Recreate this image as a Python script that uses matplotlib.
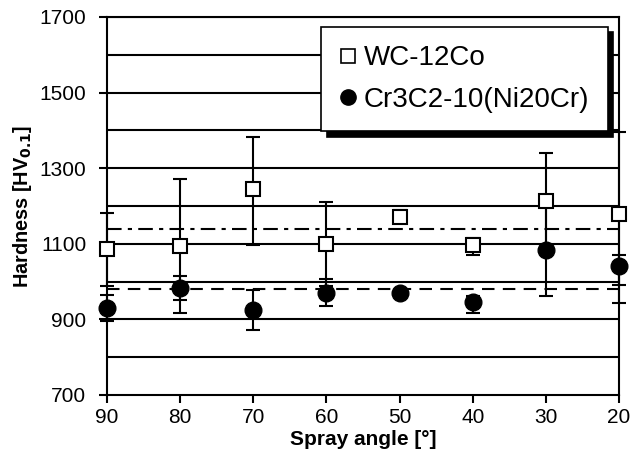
import matplotlib
matplotlib.use('Agg')
import matplotlib.pyplot as plt
from matplotlib.lines import Line2D

plt.rcParams['font.family'] = ['Liberation Sans', 'DejaVu Sans']

angles = [90, 80, 70, 60, 50, 40, 30, 20]
wc = [1085, 1095, 1245, 1100, 1172, 1097, 1214, 1178]
wc_lo = [97, 177, 148, 111, 17, 27, 126, 234]
wc_hi = [97, 177, 138, 111, 17, 18, 126, 218]
cr = [930, 983, 925, 971, 971, 947, 1084, 1041]
cr_lo = [35, 32, 53, 36, 8, 29, 121, 50]
cr_hi = [35, 32, 53, 36, 8, 16, 121, 29]
wc_mean = 1140
cr_mean = 980
labels = ['WC-12Co', 'Cr3C2-10(Ni20Cr)']

fig = plt.figure(figsize=(6.31, 4.71), dpi=100)
ax = fig.add_axes([107 / 631, 1 - 395 / 471, 512 / 631, 378 / 471])

# gridlines every 100
for y in range(800, 1701, 100):
    ax.axhline(y, color='black', lw=1.5, zorder=1)

ax.axhline(wc_mean, color='black', lw=1.5, ls=(0, (7, 3, 2, 3)), zorder=2)
ax.axhline(cr_mean, color='black', lw=1.5, ls=(0, (6, 4)), zorder=2)

ax.errorbar(angles, wc, yerr=[wc_lo, wc_hi], fmt='none', ecolor='black',
            elinewidth=1.5, capsize=5, capthick=1.5, zorder=3, clip_on=False)
ax.errorbar(angles, cr, yerr=[cr_lo, cr_hi], fmt='none', ecolor='black',
            elinewidth=1.5, capsize=5, capthick=1.5, zorder=3, clip_on=False)
ax.plot(angles, wc, ls='none', marker='s', ms=10.5, mfc='white', mec='black',
        mew=1.5, zorder=4, clip_on=False)
ax.plot(angles, cr, ls='none', marker='o', ms=12, mfc='black', mec='black',
        zorder=4, clip_on=False)

ax.set_xlim(90, 20)
ax.set_ylim(700, 1700)
ax.set_xticks(angles)
ax.set_yticks(range(700, 1701, 200))
ax.tick_params(labelsize=15, width=1.5, length=6, direction='out')
ax.tick_params(axis='y', pad=9)
for s in ax.spines.values():
    s.set_linewidth(1.5)

ax.set_xlabel('Spray angle [°]', fontsize=15, fontweight='bold', labelpad=2)
ax.set_ylabel('Hardness [HV$_{\\mathbf{0.1}}$]', fontsize=14.3, fontweight='bold', labelpad=4)

handles = [Line2D([], [], ls='none', marker='s', ms=10, mfc='white', mec='black', mew=1.2),
           Line2D([], [], ls='none', marker='o', ms=11, mfc='black', mec='black')]
leg = ax.legend(handles, labels, loc='upper right', bbox_to_anchor=(0.978, 0.974),
                borderaxespad=0, fontsize=20, frameon=True, fancybox=False,
                framealpha=1, edgecolor='black', handlelength=0.6, handletextpad=0.25,
                labelspacing=0.55, borderpad=0.67,
                shadow={'ox': 4, 'oy': -4, 'facecolor': 'black', 'edgecolor': 'black', 'alpha': 1})
leg.get_frame().set_linewidth(1.2)
leg.set_zorder(10)

fig.savefig('out.png', dpi=100)
